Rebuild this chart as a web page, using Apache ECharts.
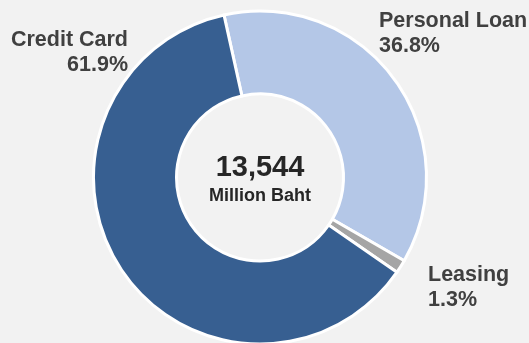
<!DOCTYPE html>
<html>
<head>
<meta charset="utf-8">
<script src="https://cdn.jsdelivr.net/npm/echarts@6/dist/echarts.min.js"></script>
<style>
  html, body { margin: 0; padding: 0; background: #f2f2f2; }
  #chart { width: 529px; height: 343px; }
</style>
</head>
<body>
<div id="chart"></div>
<script>
// Loan portfolio breakdown (share of total, %)
const categories = ['Personal Loan', 'Leasing', 'Credit Card'];
const shares = [36.8, 1.3, 61.9];
const colors = ['#b4c7e7', '#a5a5a5', '#375f91'];
const totalText = '13,544';
const totalUnit = 'Million Baht';

// Where each category's label block sits (anchor, alignment)
const labelSpots = {
  'Personal Loan': { x: 379, y: 34, align: 'left' },
  'Leasing': { x: 428, y: 288, align: 'left' },
  'Credit Card': { x: 128, y: 53, align: 'right' }
};

const font = '"Liberation Sans", Arial, sans-serif';
const chart = echarts.init(document.getElementById('chart'), null, { renderer: 'canvas' });

chart.setOption({
  backgroundColor: '#f2f2f2',
  animation: false,
  series: [{
    type: 'pie',
    center: [260, 177.5],
    radius: [83.5, 166.5],
    startAngle: 102.5,
    clockwise: true,
    avoidLabelOverlap: false,
    itemStyle: { borderColor: '#ffffff', borderWidth: 3 },
    label: {
      show: true,
      position: 'outside',
      fontFamily: font,
      fontWeight: 'bold',
      fontSize: 21.5,
      lineHeight: 25,
      color: '#404040',
      formatter: p => p.name + '\n' + p.value.toFixed(1) + '%'
    },
    labelLine: { show: false },
    labelLayout: function (params) {
      const name = categories[params.dataIndex];
      const s = labelSpots[name];
      return { x: s.x, y: s.y, align: s.align, verticalAlign: 'middle' };
    },
    emphasis: { disabled: true },
    data: categories.map((c, i) => ({
      name: c,
      value: shares[i],
      itemStyle: { color: colors[i] },
      label: { align: labelSpots[c].align }
    }))
  }],
  graphic: [
    {
      type: 'text',
      style: {
        x: 260, y: 168,
        text: totalText,
        font: 'bold 29px ' + font,
        fill: '#262626',
        align: 'center',
        verticalAlign: 'middle'
      }
    },
    {
      type: 'text',
      style: {
        x: 260, y: 196,
        text: totalUnit,
        font: 'bold 18px ' + font,
        fill: '#262626',
        align: 'center',
        verticalAlign: 'middle'
      }
    }
  ]
});
</script>
</body>
</html>
